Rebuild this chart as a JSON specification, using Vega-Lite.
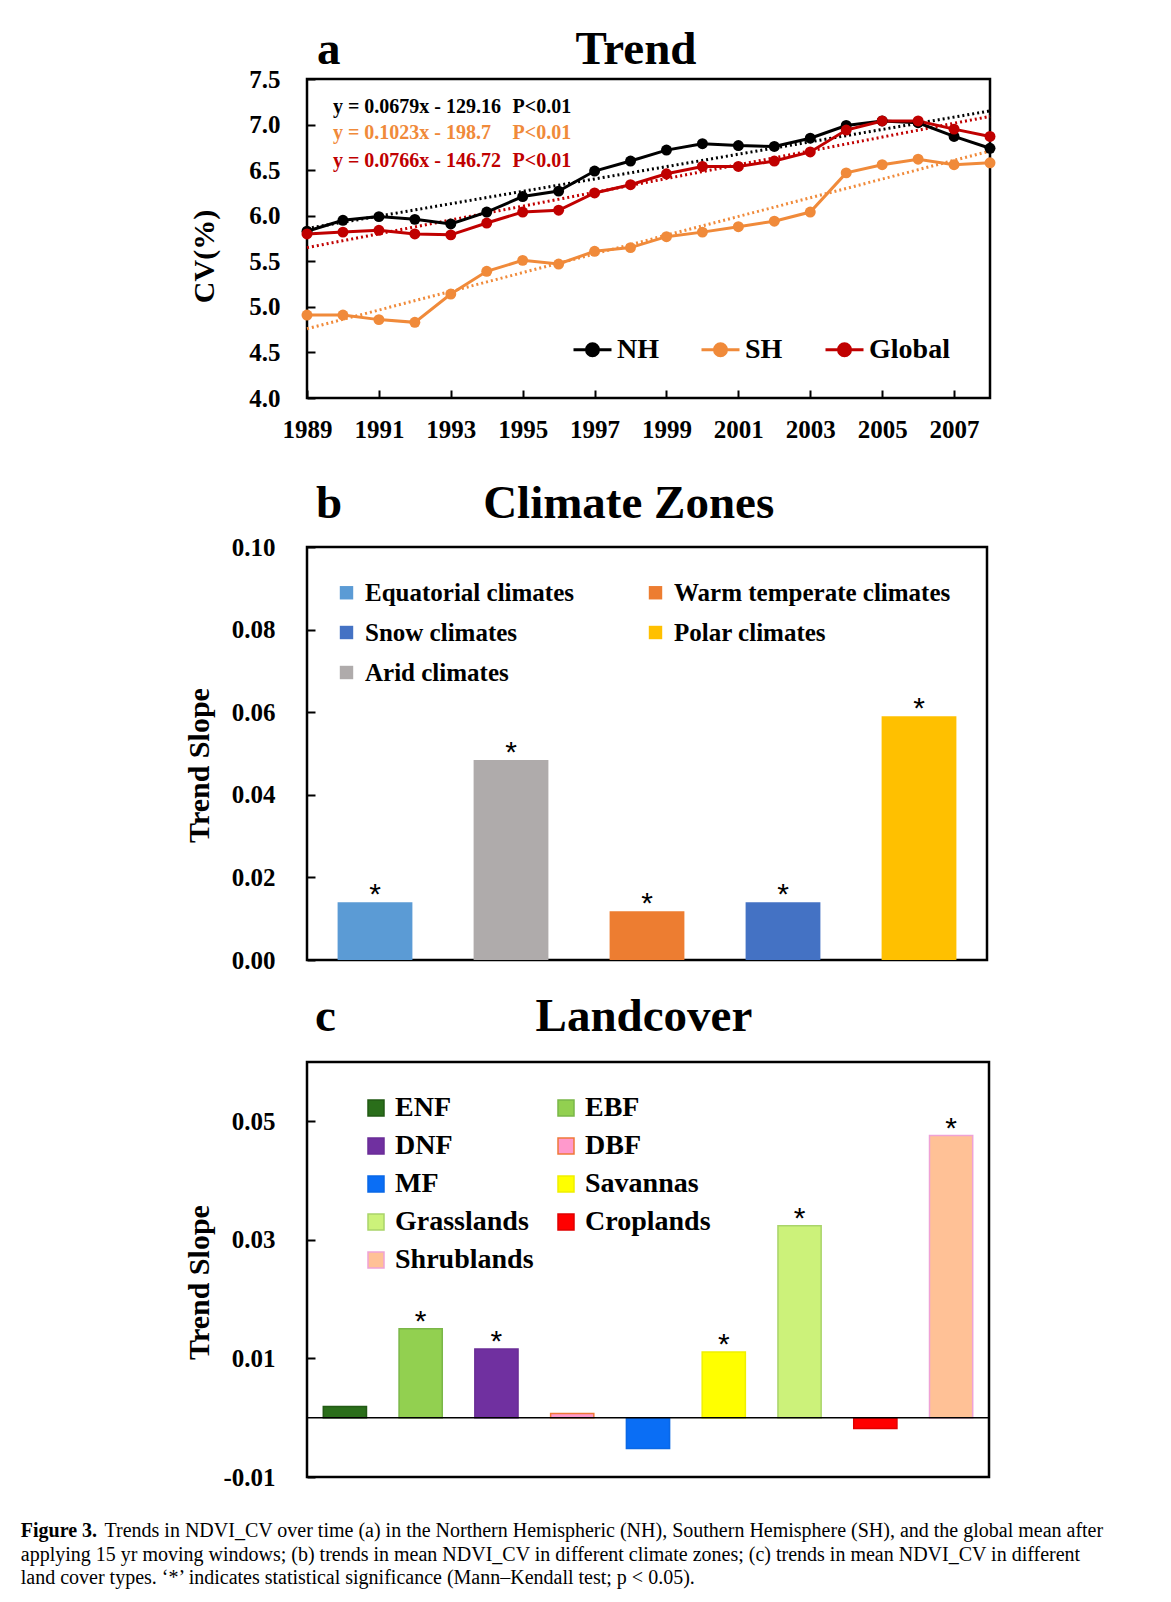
{
  "$schema": "https://vega.github.io/schema/vega-lite/v6.json",
  "background": "white",
  "padding": {"left": 20, "top": 24, "right": 5, "bottom": 5},
  "spacing": 16,
  "config": {
    "view": {"stroke": "#000000", "strokeWidth": 2.5},
    "font": "Liberation Serif",
    "axis": {"labelFont": "Liberation Serif", "labelFontWeight": "bold", "labelFontSize": 25, "labelColor": "#000000", "titleFont": "Liberation Serif", "titleFontWeight": "bold", "titleColor": "#000000", "grid": false, "domain": false, "tickColor": "#000000", "tickWidth": 2, "labelOverlap": false, "labelFlush": false},
    "legend": {"labelFont": "Liberation Serif", "labelFontWeight": "bold", "labelColor": "#000000", "labelLimit": 0},
    "title": {"font": "Liberation Serif", "fontWeight": "bold", "color": "#000000"}
  },
  "title": {
    "text": "Figure 3.",
    "subtitle": [
      "applying 15 yr moving windows; (b) trends in mean NDVI_CV in different climate zones; (c) trends in mean NDVI_CV in different",
      "land cover types. ‘*’ indicates statistical significance (Mann–Kendall test; p < 0.05)."
    ],
    "orient": "bottom", "anchor": "start", "frame": "bounds",
    "font": "Liberation Serif", "fontSize": 20, "fontWeight": "bold", "color": "#000000",
    "subtitleFont": "Liberation Serif", "subtitleFontSize": 20, "subtitleFontWeight": "normal", "subtitleColor": "#000000",
    "subtitleLineHeight": 23.5, "subtitlePadding": 3.5, "baseline": "top", "offset": -20, "dx": -82
  },
  "resolve": {"scale": {"color": "independent", "fill": "independent", "stroke": "independent", "x": "independent", "y": "independent"}},
  "vconcat": [
    {
      "width": 683, "height": 319,
      "title": {"text": "a\u00a0\u00a0\u00a0\u00a0\u00a0\u00a0\u00a0\u00a0\u00a0\u00a0\u00a0\u00a0\u00a0\u00a0\u00a0\u00a0\u00a0\u00a0\u00a0\u00a0Trend", "anchor": "start", "frame": "group", "fontSize": 47, "offset": -44, "baseline": "alphabetic", "dx": 10},
      "layer": [
        {
          "data": {"values": [
            {"series": "NH", "year": 1989, "cv": 5.86}, {"series": "NH", "year": 2008, "cv": 7.15},
            {"series": "SH", "year": 1989, "cv": 4.76}, {"series": "SH", "year": 2008, "cv": 6.71},
            {"series": "Global", "year": 1989, "cv": 5.65}, {"series": "Global", "year": 2008, "cv": 7.09}
          ]},
          "mark": {"type": "line", "strokeDash": [2, 3], "strokeWidth": 3},
          "encoding": {
            "x": {"field": "year", "type": "quantitative", "scale": {"domain": [1989, 2008], "nice": false, "zero": false},
                  "axis": {"values": [1989, 1991, 1993, 1995, 1997, 1999, 2001, 2003, 2005, 2007], "format": "d", "tickSize": -8, "labelBaseline": "middle", "labelPadding": 39, "title": "\u00a0", "titleFontSize": 1, "titlePadding": 17}},
            "y": {"field": "cv", "type": "quantitative", "scale": {"domain": [4, 7.5], "nice": false, "zero": false},
                  "axis": {"values": [4, 4.5, 5, 5.5, 6, 6.5, 7, 7.5], "format": ".1f", "tickSize": -8, "labelPadding": 35, "title": "CV(%)", "titleFontSize": 30, "titleX": -103, "titleY": 177, "titleAngle": -90, "titleAlign": "center", "titleBaseline": "middle"}},
            "color": {"field": "series", "type": "nominal", "scale": {"domain": ["NH", "SH", "Global"], "range": ["#000000", "#F08A3A", "#C00000"]},
                      "legend": {"orient": "none", "legendX": 265, "legendY": 250, "direction": "horizontal", "title": null, "symbolType": "M-1,0H1M-0.316,0A0.316,0.316,0,1,0,0.316,0A0.316,0.316,0,1,0,-0.316,0Z", "symbolSize": 1444, "symbolStrokeWidth": 3, "labelFontSize": 28, "labelOffset": 4, "columnPadding": 36,
                                 "encode": {"symbols": {"update": {"fill": {"signal": "datum.value === 'NH' ? '#000000' : datum.value === 'SH' ? '#F08A3A' : '#C00000'"}, "stroke": {"signal": "datum.value === 'NH' ? '#000000' : datum.value === 'SH' ? '#F08A3A' : '#C00000'"}, "opacity": {"value": 1}}}}}}
          }
        },
        {
          "data": {"name": "cvseries", "values": [
            {"series": "NH", "year": 1989, "cv": 5.83}, {"series": "NH", "year": 1990, "cv": 5.95}, {"series": "NH", "year": 1991, "cv": 5.99}, {"series": "NH", "year": 1992, "cv": 5.96}, {"series": "NH", "year": 1993, "cv": 5.91},
            {"series": "NH", "year": 1994, "cv": 6.04}, {"series": "NH", "year": 1995, "cv": 6.21}, {"series": "NH", "year": 1996, "cv": 6.27}, {"series": "NH", "year": 1997, "cv": 6.49}, {"series": "NH", "year": 1998, "cv": 6.60},
            {"series": "NH", "year": 1999, "cv": 6.72}, {"series": "NH", "year": 2000, "cv": 6.79}, {"series": "NH", "year": 2001, "cv": 6.77}, {"series": "NH", "year": 2002, "cv": 6.76}, {"series": "NH", "year": 2003, "cv": 6.85},
            {"series": "NH", "year": 2004, "cv": 6.99}, {"series": "NH", "year": 2005, "cv": 7.04}, {"series": "NH", "year": 2006, "cv": 7.02}, {"series": "NH", "year": 2007, "cv": 6.87}, {"series": "NH", "year": 2008, "cv": 6.74},
            {"series": "SH", "year": 1989, "cv": 4.91}, {"series": "SH", "year": 1990, "cv": 4.91}, {"series": "SH", "year": 1991, "cv": 4.86}, {"series": "SH", "year": 1992, "cv": 4.83}, {"series": "SH", "year": 1993, "cv": 5.14},
            {"series": "SH", "year": 1994, "cv": 5.39}, {"series": "SH", "year": 1995, "cv": 5.51}, {"series": "SH", "year": 1996, "cv": 5.47}, {"series": "SH", "year": 1997, "cv": 5.61}, {"series": "SH", "year": 1998, "cv": 5.65},
            {"series": "SH", "year": 1999, "cv": 5.77}, {"series": "SH", "year": 2000, "cv": 5.82}, {"series": "SH", "year": 2001, "cv": 5.88}, {"series": "SH", "year": 2002, "cv": 5.94}, {"series": "SH", "year": 2003, "cv": 6.04},
            {"series": "SH", "year": 2004, "cv": 6.47}, {"series": "SH", "year": 2005, "cv": 6.56}, {"series": "SH", "year": 2006, "cv": 6.62}, {"series": "SH", "year": 2007, "cv": 6.56}, {"series": "SH", "year": 2008, "cv": 6.58},
            {"series": "Global", "year": 1989, "cv": 5.80}, {"series": "Global", "year": 1990, "cv": 5.82}, {"series": "Global", "year": 1991, "cv": 5.84}, {"series": "Global", "year": 1992, "cv": 5.80}, {"series": "Global", "year": 1993, "cv": 5.79},
            {"series": "Global", "year": 1994, "cv": 5.92}, {"series": "Global", "year": 1995, "cv": 6.04}, {"series": "Global", "year": 1996, "cv": 6.06}, {"series": "Global", "year": 1997, "cv": 6.25}, {"series": "Global", "year": 1998, "cv": 6.34},
            {"series": "Global", "year": 1999, "cv": 6.46}, {"series": "Global", "year": 2000, "cv": 6.54}, {"series": "Global", "year": 2001, "cv": 6.54}, {"series": "Global", "year": 2002, "cv": 6.60}, {"series": "Global", "year": 2003, "cv": 6.70},
            {"series": "Global", "year": 2004, "cv": 6.94}, {"series": "Global", "year": 2005, "cv": 7.04}, {"series": "Global", "year": 2006, "cv": 7.04}, {"series": "Global", "year": 2007, "cv": 6.95}, {"series": "Global", "year": 2008, "cv": 6.87}
          ]},
          "mark": {"type": "line", "strokeWidth": 3},
          "encoding": {
            "x": {"field": "year", "type": "quantitative"},
            "y": {"field": "cv", "type": "quantitative"},
            "color": {"field": "series", "type": "nominal"}
          }
        },
        {
          "data": {"name": "cvseries"},
          "mark": {"type": "point", "filled": true, "size": 120, "opacity": 1},
          "encoding": {
            "x": {"field": "year", "type": "quantitative"},
            "y": {"field": "cv", "type": "quantitative"},
            "color": {"field": "series", "type": "nominal"}
          }
        },
        {
          "data": {"name": "eqs", "values": [
            {"series": "NH", "eq": "y = 0.0679x - 129.16", "p": "P<0.01", "ty": 7.19},
            {"series": "SH", "eq": "y = 0.1023x - 198.7", "p": "P<0.01", "ty": 6.91},
            {"series": "Global", "eq": "y = 0.0766x - 146.72", "p": "P<0.01", "ty": 6.60}
          ]},
          "mark": {"type": "text", "align": "left", "baseline": "middle", "font": "Liberation Serif", "fontWeight": "bold", "fontSize": 20},
          "encoding": {
            "x": {"datum": 1989.72, "type": "quantitative"},
            "y": {"field": "ty", "type": "quantitative"},
            "text": {"field": "eq"},
            "color": {"field": "series", "type": "nominal"}
          }
        },
        {
          "data": {"name": "eqs"},
          "mark": {"type": "text", "align": "left", "baseline": "middle", "font": "Liberation Serif", "fontWeight": "bold", "fontSize": 20},
          "encoding": {
            "x": {"datum": 1994.72, "type": "quantitative"},
            "y": {"field": "ty", "type": "quantitative"},
            "text": {"field": "p"},
            "color": {"field": "series", "type": "nominal"}
          }
        }
      ]
    },
    {
      "width": 680, "height": 413,
      "title": {"text": "b\u00a0\u00a0\u00a0\u00a0\u00a0\u00a0\u00a0\u00a0\u00a0\u00a0\u00a0\u00a0Climate Zones", "anchor": "start", "frame": "group", "fontSize": 47, "offset": -30, "baseline": "alphabetic", "dx": 9},
      "data": {"values": [
        {"zone": "Equatorial climates", "slope": 0.0140, "sig": "*"},
        {"zone": "Arid climates", "slope": 0.0484, "sig": "*"},
        {"zone": "Warm temperate climates", "slope": 0.0118, "sig": "*"},
        {"zone": "Snow climates", "slope": 0.0140, "sig": "*"},
        {"zone": "Polar climates", "slope": 0.0590, "sig": "*"}
      ]},
      "layer": [
        {
          "mark": {"type": "bar"},
          "encoding": {
            "x": {"field": "zone", "type": "nominal", "sort": ["Equatorial climates", "Arid climates", "Warm temperate climates", "Snow climates", "Polar climates"], "axis": null, "scale": {"paddingInner": 0.45, "paddingOuter": 0.225}},
            "y": {"field": "slope", "type": "quantitative", "scale": {"domain": [0, 0.1], "nice": false},
                  "axis": {"values": [0, 0.02, 0.04, 0.06, 0.08, 0.1], "format": ".2f", "tickSize": -8, "labelPadding": 40, "title": "Trend Slope", "titleFontSize": 30, "titleX": -108, "titleY": 218, "titleAngle": -90, "titleAlign": "center", "titleBaseline": "middle"}},
            "fill": {"field": "zone", "type": "nominal",
                     "scale": {"domain": ["Equatorial climates", "Snow climates", "Arid climates", "Warm temperate climates", "Polar climates"], "range": ["#5B9BD5", "#4472C4", "#AFABAB", "#ED7D31", "#FFC000"]},
                     "legend": {"orient": "none", "legendX": 27, "legendY": 33, "columns": 2, "columnPadding": 68, "rowPadding": 14, "title": null, "symbolType": "square", "symbolSize": 180, "symbolStrokeWidth": 0, "labelFontSize": 25, "labelOffset": 6}}
          }
        },
        {
          "mark": {"type": "text", "baseline": "alphabetic", "font": "Liberation Sans", "fontSize": 30, "color": "#000000", "dy": 2},
          "encoding": {
            "x": {"field": "zone", "type": "nominal", "sort": ["Equatorial climates", "Arid climates", "Warm temperate climates", "Snow climates", "Polar climates"]},
            "y": {"field": "slope", "type": "quantitative"},
            "text": {"field": "sig"}
          }
        }
      ]
    },
    {
      "width": 682, "height": 415,
      "title": {"text": "c\u00a0\u00a0\u00a0\u00a0\u00a0\u00a0\u00a0\u00a0\u00a0\u00a0\u00a0\u00a0\u00a0\u00a0\u00a0\u00a0\u00a0Landcover", "anchor": "start", "frame": "group", "fontSize": 47, "offset": -16, "baseline": "alphabetic", "dx": 8},
      "layer": [
        {
          "data": {"name": "lc", "values": [
            {"cover": "ENF", "slope": 0.0019, "sig": ""},
            {"cover": "EBF", "slope": 0.0150, "sig": "*"},
            {"cover": "DNF", "slope": 0.0116, "sig": "*"},
            {"cover": "DBF", "slope": 0.0007, "sig": ""},
            {"cover": "MF", "slope": -0.0052, "sig": ""},
            {"cover": "Savannas", "slope": 0.0111, "sig": "*"},
            {"cover": "Grasslands", "slope": 0.0324, "sig": "*"},
            {"cover": "Croplands", "slope": -0.0018, "sig": ""},
            {"cover": "Shrublands", "slope": 0.0476, "sig": "*"}
          ]},
          "mark": {"type": "bar", "strokeWidth": 1.5},
          "encoding": {
            "x": {"field": "cover", "type": "nominal", "sort": null, "scale": {"paddingInner": 0.43, "paddingOuter": 0.215},
                  "axis": {"labels": false, "ticks": false, "domain": false, "title": "Trends in NDVI_CV over time (a) in the Northern Hemispheric (NH), Southern Hemisphere (SH), and the global mean after", "titleFont": "Liberation Serif", "titleFontWeight": "normal", "titleFontSize": 20, "titleColor": "#000000", "titleX": -203, "titleY": 43, "titleAlign": "left", "titleAnchor": null, "titleBaseline": "top", "titleAngle": 0, "titleLimit": 3000}},
            "y": {"field": "slope", "type": "quantitative", "scale": {"domain": [-0.01, 0.06], "nice": false, "zero": false},
                  "axis": {"values": [-0.01, 0.01, 0.03, 0.05], "format": ".2f", "labelExpr": "replace(datum.label, '−', '-')", "tickSize": -8, "labelPadding": 40, "title": "Trend Slope", "titleFontSize": 30, "titleX": -108, "titleY": 220, "titleAngle": -90, "titleAlign": "center", "titleBaseline": "middle"}},
            "fill": {"field": "cover", "type": "nominal",
                     "scale": {"domain": ["ENF", "DNF", "MF", "Grasslands", "Shrublands", "EBF", "DBF", "Savannas", "Croplands"], "range": ["#2A6E1A", "#7030A0", "#0A6EF5", "#CCF27A", "#FFC196", "#92D050", "#FF99CC", "#FFFF00", "#FF0000"]},
                     "legend": {"orient": "none", "legendX": 55, "legendY": 32, "columns": 2, "columnPadding": 18, "rowPadding": 10, "title": null, "symbolType": "square", "symbolSize": 256, "symbolStrokeWidth": 1.5, "labelFontSize": 28, "labelOffset": 5,
                                "encode": {"symbols": {"update": {"stroke": {"signal": "['#225A14','#7AB648','#6A2D96','#F07838','#0A68E6','#F0F000','#A9D46A','#E00000','#EFA2D6'][indexof(['ENF','EBF','DNF','DBF','MF','Savannas','Grasslands','Croplands','Shrublands'], datum.value)]"}}}}}},
            "stroke": {"field": "cover", "type": "nominal", "legend": null,
                       "scale": {"domain": ["ENF", "EBF", "DNF", "DBF", "MF", "Savannas", "Grasslands", "Croplands", "Shrublands"], "range": ["#225A14", "#7AB648", "#6A2D96", "#F07838", "#0A68E6", "#F0F000", "#A9D46A", "#E00000", "#EFA2D6"]}}
          }
        },
        {
          "data": {"name": "lc"},
          "mark": {"type": "text", "baseline": "alphabetic", "font": "Liberation Sans", "fontSize": 30, "color": "#000000", "dy": 2},
          "encoding": {
            "x": {"field": "cover", "type": "nominal", "sort": null},
            "y": {"field": "slope", "type": "quantitative"},
            "text": {"field": "sig"}
          }
        },
        {
          "data": {"values": [{}]},
          "mark": {"type": "rule", "color": "#000000", "strokeWidth": 1.5},
          "encoding": {"y": {"datum": 0}}
        }
      ]
    }
  ]
}
